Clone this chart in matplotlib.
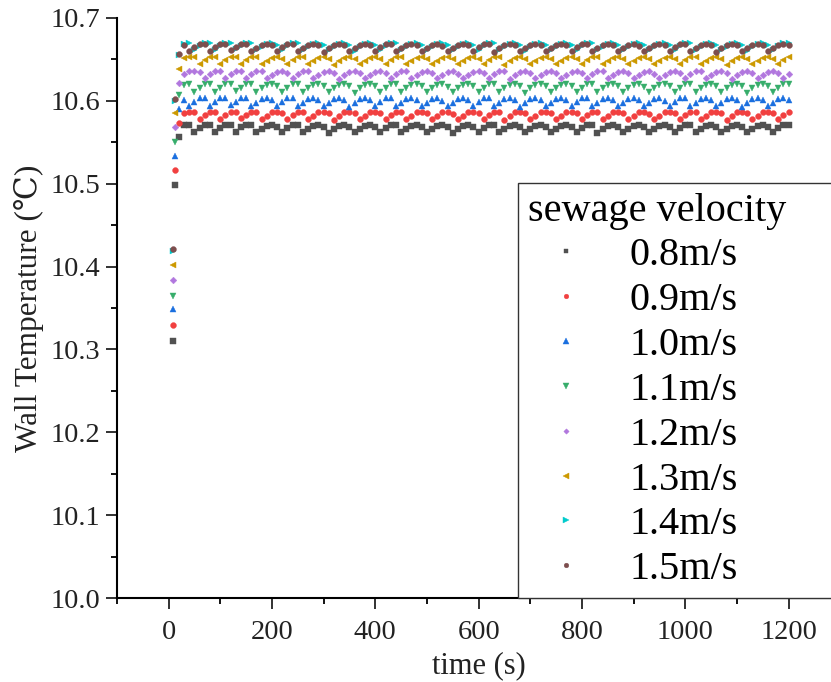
import matplotlib
matplotlib.use("Agg")
import matplotlib.pyplot as plt
from matplotlib.ticker import MultipleLocator, FormatStrFormatter

plt.rcParams['font.family'] = ['Liberation Serif', 'DejaVu Serif', 'Noto Sans CJK SC']

# time axis (s)
time_s = [9, 12] + list(range(20, 1201, 10))

labels = ['0.8m/s', '0.9m/s', '1.0m/s', '1.1m/s', '1.2m/s', '1.3m/s', '1.4m/s', '1.5m/s']

v08 = [10.310, 10.499, 10.556,
       10.571, 10.571,
       10.562, 10.567, 10.571, 10.571,
       10.563, 10.567, 10.571, 10.571,
       10.562, 10.568, 10.571, 10.571,
       10.562, 10.566, 10.570, 10.571, 10.569,
       10.562, 10.567, 10.571, 10.571,
       10.562, 10.566, 10.570, 10.571, 10.569,
       10.561, 10.566, 10.570, 10.571, 10.569,
       10.562, 10.566, 10.570, 10.571, 10.568,
       10.562, 10.567, 10.571, 10.571,
       10.562, 10.566, 10.570, 10.571, 10.569,
       10.562, 10.566, 10.570, 10.571, 10.569,
       10.561, 10.566, 10.570, 10.571, 10.569,
       10.562, 10.567, 10.571, 10.571,
       10.562, 10.566, 10.570, 10.571, 10.569,
       10.562, 10.566, 10.570, 10.571, 10.568,
       10.562, 10.566, 10.570, 10.571, 10.569,
       10.562, 10.567, 10.571, 10.571,
       10.561, 10.566, 10.570, 10.571, 10.569,
       10.562, 10.566, 10.570, 10.571, 10.569,
       10.562, 10.566, 10.570, 10.571, 10.569,
       10.562, 10.567, 10.571, 10.571,
       10.562, 10.566, 10.570, 10.571, 10.569,
       10.562, 10.566, 10.570, 10.571, 10.568,
       10.562, 10.566, 10.570, 10.571, 10.569,
       10.562, 10.567, 10.571, 10.571]

v09 = [10.329, 10.517, 10.573,
       10.585, 10.587, 10.587,
       10.578, 10.583, 10.587, 10.587,
       10.578, 10.583, 10.587, 10.587,
       10.579, 10.583, 10.587, 10.587,
       10.578, 10.582, 10.586, 10.587, 10.585,
       10.578, 10.583, 10.587, 10.587,
       10.578, 10.582, 10.586, 10.587, 10.585,
       10.577, 10.582, 10.586, 10.587, 10.585,
       10.578, 10.582, 10.586, 10.587, 10.585,
       10.578, 10.583, 10.587, 10.587,
       10.578, 10.582, 10.586, 10.587, 10.585,
       10.578, 10.582, 10.586, 10.587, 10.584,
       10.578, 10.582, 10.586, 10.587, 10.585,
       10.578, 10.583, 10.587, 10.587,
       10.577, 10.582, 10.586, 10.587, 10.585,
       10.578, 10.582, 10.586, 10.587, 10.585,
       10.578, 10.582, 10.586, 10.587, 10.585,
       10.578, 10.583, 10.587, 10.587,
       10.578, 10.582, 10.586, 10.587, 10.585,
       10.578, 10.582, 10.586, 10.587, 10.584,
       10.578, 10.582, 10.586, 10.587, 10.585,
       10.578, 10.583, 10.587, 10.587,
       10.578, 10.582, 10.586, 10.587, 10.585,
       10.577, 10.582, 10.586, 10.587, 10.585,
       10.578, 10.582, 10.586, 10.587, 10.585,
       10.578, 10.583, 10.587]

v10 = [10.349, 10.534, 10.590,
       10.601,
       10.594, 10.599, 10.603, 10.603,
       10.594, 10.599, 10.603, 10.603,
       10.595, 10.599, 10.603, 10.603,
       10.594, 10.598, 10.602, 10.603, 10.601,
       10.594, 10.599, 10.603, 10.603,
       10.594, 10.598, 10.602, 10.603, 10.601,
       10.594, 10.598, 10.602, 10.603, 10.601,
       10.593, 10.598, 10.602, 10.603, 10.601,
       10.594, 10.599, 10.603, 10.603,
       10.594, 10.598, 10.602, 10.603, 10.601,
       10.594, 10.598, 10.602, 10.603, 10.600,
       10.594, 10.598, 10.602, 10.603, 10.601,
       10.594, 10.599, 10.603, 10.603,
       10.594, 10.598, 10.602, 10.603, 10.601,
       10.593, 10.598, 10.602, 10.603, 10.601,
       10.594, 10.598, 10.602, 10.603, 10.601,
       10.594, 10.599, 10.603, 10.603,
       10.594, 10.598, 10.602, 10.603, 10.601,
       10.594, 10.598, 10.602, 10.603, 10.601,
       10.594, 10.598, 10.602, 10.603, 10.600,
       10.594, 10.599, 10.603, 10.603,
       10.594, 10.598, 10.602, 10.603, 10.601,
       10.594, 10.598, 10.602, 10.603, 10.601,
       10.593, 10.598, 10.602, 10.603, 10.601,
       10.594, 10.598, 10.602, 10.603, 10.601]

v11 = [10.364, 10.550, 10.607,
       10.619, 10.620,
       10.611, 10.616, 10.620, 10.620,
       10.611, 10.616, 10.620, 10.620,
       10.612, 10.616, 10.620, 10.620,
       10.611, 10.615, 10.619, 10.620, 10.618,
       10.611, 10.616, 10.620, 10.620,
       10.611, 10.615, 10.619, 10.620, 10.618,
       10.611, 10.615, 10.619, 10.620, 10.618,
       10.610, 10.615, 10.619, 10.620, 10.618,
       10.611, 10.616, 10.620, 10.620,
       10.611, 10.615, 10.619, 10.620, 10.618,
       10.611, 10.615, 10.619, 10.620, 10.617,
       10.611, 10.615, 10.619, 10.620, 10.618,
       10.611, 10.616, 10.620, 10.620,
       10.611, 10.615, 10.619, 10.620, 10.618,
       10.610, 10.615, 10.619, 10.620, 10.618,
       10.611, 10.615, 10.619, 10.620, 10.618,
       10.611, 10.616, 10.620, 10.620,
       10.611, 10.615, 10.619, 10.620, 10.618,
       10.611, 10.615, 10.619, 10.620, 10.617,
       10.611, 10.615, 10.619, 10.620, 10.618,
       10.611, 10.616, 10.620, 10.620,
       10.611, 10.615, 10.619, 10.620, 10.618,
       10.611, 10.615, 10.619, 10.620, 10.618,
       10.610, 10.615, 10.619, 10.620, 10.618,
       10.611, 10.616, 10.620, 10.620]

v12 = [10.384, 10.568, 10.622,
       10.633, 10.636, 10.636, 10.635,
       10.627, 10.632, 10.636, 10.636,
       10.627, 10.632, 10.636, 10.636,
       10.628, 10.632, 10.636, 10.636,
       10.627, 10.631, 10.635, 10.636, 10.634,
       10.627, 10.632, 10.636, 10.636,
       10.627, 10.631, 10.635, 10.636, 10.634,
       10.626, 10.631, 10.635, 10.636, 10.634,
       10.627, 10.631, 10.635, 10.636, 10.634,
       10.627, 10.632, 10.636, 10.636,
       10.627, 10.631, 10.635, 10.636, 10.634,
       10.627, 10.631, 10.635, 10.636, 10.633,
       10.627, 10.631, 10.635, 10.636, 10.634,
       10.627, 10.632, 10.636, 10.636,
       10.626, 10.631, 10.635, 10.636, 10.634,
       10.627, 10.631, 10.635, 10.636, 10.634,
       10.627, 10.631, 10.635, 10.636, 10.634,
       10.627, 10.632, 10.636, 10.636,
       10.627, 10.631, 10.635, 10.636, 10.634,
       10.627, 10.631, 10.635, 10.636, 10.633,
       10.627, 10.631, 10.635, 10.636, 10.634,
       10.627, 10.632, 10.636, 10.636,
       10.627, 10.631, 10.635, 10.636, 10.634,
       10.626, 10.631, 10.635, 10.636, 10.634,
       10.627, 10.631, 10.635, 10.636, 10.634,
       10.627, 10.632]

v13 = [10.402, 10.585, 10.639,
       10.652, 10.653, 10.653,
       10.644, 10.649, 10.653, 10.653,
       10.644, 10.649, 10.653, 10.653,
       10.645, 10.649, 10.653, 10.653,
       10.644, 10.648, 10.652, 10.653, 10.651,
       10.644, 10.649, 10.653, 10.653,
       10.644, 10.648, 10.652, 10.653, 10.651,
       10.643, 10.648, 10.652, 10.653, 10.651,
       10.644, 10.648, 10.652, 10.653, 10.651,
       10.644, 10.649, 10.653, 10.653,
       10.644, 10.648, 10.652, 10.653, 10.651,
       10.644, 10.648, 10.652, 10.653, 10.650,
       10.644, 10.648, 10.652, 10.653, 10.651,
       10.644, 10.649, 10.653, 10.653,
       10.643, 10.648, 10.652, 10.653, 10.651,
       10.644, 10.648, 10.652, 10.653, 10.651,
       10.644, 10.648, 10.652, 10.653, 10.651,
       10.644, 10.649, 10.653, 10.653,
       10.644, 10.648, 10.652, 10.653, 10.651,
       10.644, 10.648, 10.652, 10.653, 10.650,
       10.644, 10.648, 10.652, 10.653, 10.651,
       10.644, 10.649, 10.653, 10.653,
       10.644, 10.648, 10.652, 10.653, 10.651,
       10.643, 10.648, 10.652, 10.653, 10.651,
       10.644, 10.648, 10.652, 10.653, 10.651,
       10.644, 10.649, 10.653]

v14 = [10.419, 10.600, 10.655,
       10.669, 10.670,
       10.661, 10.666, 10.670, 10.670,
       10.661, 10.666, 10.670, 10.670,
       10.662, 10.666, 10.670, 10.670,
       10.661, 10.665, 10.669, 10.670, 10.668,
       10.661, 10.666, 10.670, 10.670,
       10.661, 10.665, 10.669, 10.670, 10.668,
       10.661, 10.665, 10.669, 10.670, 10.668,
       10.660, 10.665, 10.669, 10.670, 10.668,
       10.661, 10.666, 10.670, 10.670,
       10.661, 10.665, 10.669, 10.670, 10.668,
       10.661, 10.665, 10.669, 10.670, 10.667,
       10.661, 10.665, 10.669, 10.670, 10.668,
       10.661, 10.666, 10.670, 10.670,
       10.661, 10.665, 10.669, 10.670, 10.668,
       10.660, 10.665, 10.669, 10.670, 10.668,
       10.661, 10.665, 10.669, 10.670, 10.668,
       10.661, 10.666, 10.670, 10.670,
       10.661, 10.665, 10.669, 10.670, 10.668,
       10.661, 10.665, 10.669, 10.670, 10.667,
       10.661, 10.665, 10.669, 10.670, 10.668,
       10.661, 10.666, 10.670, 10.670,
       10.661, 10.665, 10.669, 10.670, 10.668,
       10.661, 10.665, 10.669, 10.670, 10.668,
       10.660, 10.665, 10.669, 10.670, 10.668,
       10.661, 10.666, 10.670, 10.670]

v15 = [10.421, 10.602, 10.657,
       10.667,
       10.660, 10.665, 10.669, 10.669,
       10.660, 10.665, 10.669, 10.669,
       10.661, 10.665, 10.669, 10.669,
       10.660, 10.664, 10.668, 10.669, 10.667,
       10.660, 10.665, 10.669, 10.669,
       10.660, 10.664, 10.668, 10.669, 10.667,
       10.659, 10.664, 10.668, 10.669, 10.667,
       10.660, 10.664, 10.668, 10.669, 10.667,
       10.660, 10.665, 10.669, 10.669,
       10.660, 10.664, 10.668, 10.669, 10.667,
       10.660, 10.664, 10.668, 10.669, 10.666,
       10.660, 10.664, 10.668, 10.669, 10.667,
       10.660, 10.665, 10.669, 10.669,
       10.659, 10.664, 10.668, 10.669, 10.667,
       10.660, 10.664, 10.668, 10.669, 10.667,
       10.660, 10.664, 10.668, 10.669, 10.667,
       10.660, 10.665, 10.669, 10.669,
       10.660, 10.664, 10.668, 10.669, 10.667,
       10.660, 10.664, 10.668, 10.669, 10.666,
       10.660, 10.664, 10.668, 10.669, 10.667,
       10.660, 10.665, 10.669, 10.669,
       10.660, 10.664, 10.668, 10.669, 10.667,
       10.659, 10.664, 10.668, 10.669, 10.667,
       10.660, 10.664, 10.668, 10.669, 10.667,
       10.660, 10.664, 10.668, 10.669, 10.667]

series = [v08, v09, v10, v11, v12, v13, v14, v15]
colors = ['#515151', '#F14040', '#1A6FDF', '#37AD6B', '#B177DE', '#CC9900', '#00CBCC', '#7D4E4E']
markers = ['s', 'o', '^', 'v', 'D', '<', '>', 'o']
msizes = [4.0, 4.2, 4.6, 4.6, 3.4, 4.6, 4.6, 4.2]

W, H = 831, 682
fig = plt.figure(figsize=(W / 100, H / 100), dpi=100)
ax_left, ax_bottom, ax_w, ax_h = 117, 84, 723.3, 580
ax = fig.add_axes([ax_left / W, ax_bottom / H, ax_w / W, ax_h / H])

for vals, lab, c, m, ms in zip(series, labels, colors, markers, msizes):
    n = min(len(time_s), len(vals))
    ax.plot(time_s[:n], vals[:n], linestyle='none', marker=m, markersize=ms,
            color=c, markeredgecolor=c, markeredgewidth=0.3, label=lab)

ax.set_xlim(-100, 1300)
ax.set_ylim(10.0, 10.7)
ax.xaxis.set_major_locator(MultipleLocator(200))
ax.xaxis.set_minor_locator(MultipleLocator(100))
ax.yaxis.set_major_locator(MultipleLocator(0.1))
ax.yaxis.set_minor_locator(MultipleLocator(0.05))
ax.yaxis.set_major_formatter(FormatStrFormatter('%.1f'))

for s in ['top', 'right']:
    ax.spines[s].set_visible(False)
for s in ['left', 'bottom']:
    ax.spines[s].set_linewidth(1.5)

ax.tick_params(axis='both', which='major', direction='out', length=8, width=1.3,
               labelsize=20.5, colors='#222222', labelcolor='#222222')
ax.tick_params(axis='both', which='minor', direction='out', length=4.5, width=1.3)
ax.tick_params(axis='x', which='major', pad=8)
ax.tick_params(axis='y', which='major', pad=4)

ax.set_xlabel('time (s)', fontsize=22, color='#222222', labelpad=4)
ax.set_ylabel('Wall Temperature (℃)', fontsize=22.5, color='#222222', labelpad=5)

x0 = (518 - ax_left) / ax_w
x1 = (860 - ax_left) / ax_w
leg = ax.legend(title='sewage velocity', loc='lower left',
                bbox_to_anchor=(x0, 0.0, x1 - x0, 0.72), mode='expand',
                borderaxespad=0.0, fontsize=29, title_fontsize=29,
                alignment='left', frameon=True, fancybox=False,
                edgecolor='#333333', framealpha=1.0, markerscale=0.8,
                handlelength=1.91, handletextpad=0.61, labelspacing=0.19,
                borderpad=0.24)
leg.get_frame().set_linewidth(1.0)

fig.savefig('out.png', dpi=100)
